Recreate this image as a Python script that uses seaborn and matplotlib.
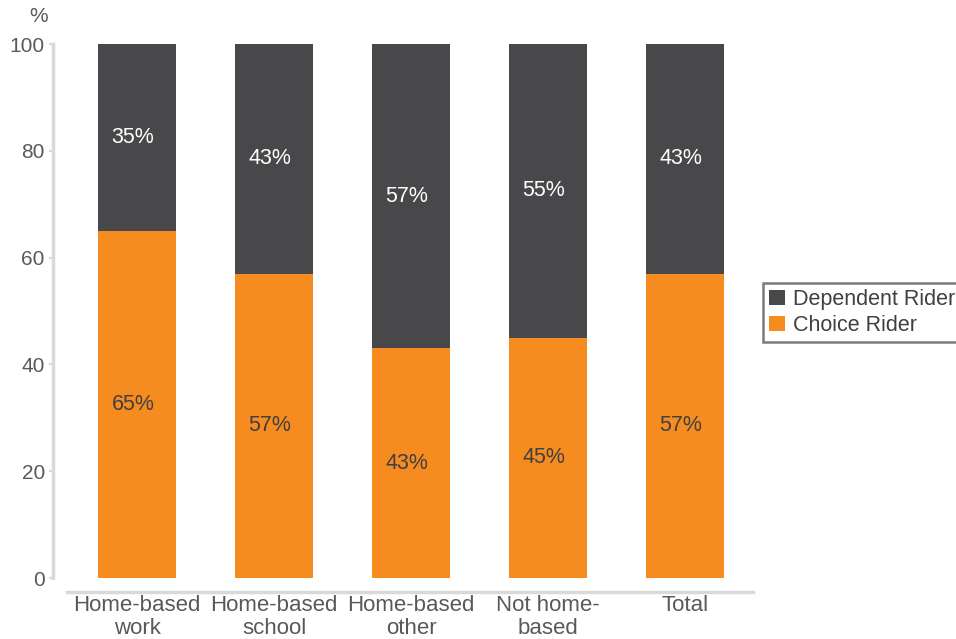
import matplotlib
matplotlib.use("Agg")
import matplotlib.pyplot as plt
from matplotlib.patches import Patch
import seaborn as sns
import pandas as pd

categories = ["Home-based\nwork", "Home-based\nschool", "Home-based\nother", "Not home-\nbased", "Total"]
choice = [65, 57, 43, 45, 57]
dependent = [35, 43, 57, 55, 43]
yticks = [0, 20, 40, 60, 80, 100]

ORANGE = "#F68C20"
DARK = "#48484A"
GRID = "#D9D9D9"
TEXT = "#595959"

sns.set_theme(style="white")
plt.rcParams["font.family"] = ["Liberation Sans", "DejaVu Sans"]

df = pd.DataFrame({
    "category": categories,
    "choice": choice,
    "dependent": dependent,
})
df["total"] = df["choice"] + df["dependent"]

fig = plt.figure(figsize=(9.56, 6.39), dpi=100)
ax = fig.add_axes([67 / 956, 1 - 578 / 639, (753 - 67) / 956, (578 - 44) / 639])

# stacked bars: full height in dark, choice share drawn over it in orange
sns.barplot(data=df, x="category", y="total", color=DARK, width=0.565,
            saturation=1, linewidth=0, ax=ax, zorder=2)
sns.barplot(data=df, x="category", y="choice", color=ORANGE, width=0.565,
            saturation=1, linewidth=0, ax=ax, zorder=3)

for i, (c, d) in enumerate(zip(df["choice"], df["dependent"])):
    ax.text(i - 0.03, c / 2, f"{c}%", ha="center", va="center", fontsize=15.5,
            color="#404040", zorder=4)
    ax.text(i - 0.03, c + d / 2, f"{d}%", ha="center", va="center", fontsize=15.5,
            color="white", zorder=4)

ax.set_xlim(-70 / 137, 4 + 68 / 137)
ax.set_ylim(0, 100)
ax.set_yticks(yticks)
ax.set_xlabel("")
ax.set_ylabel("")

for s in ["top", "right"]:
    ax.spines[s].set_visible(False)
ax.spines["left"].set_position(("outward", 10))
ax.spines["bottom"].set_position(("outward", 10))
for s in ["left", "bottom"]:
    ax.spines[s].set_color(GRID)
    ax.spines[s].set_linewidth(2.5)

ax.tick_params(axis="y", which="both", left=True, length=3, width=1.5,
               color=GRID, labelsize=15, labelcolor=TEXT, pad=3)
ax.tick_params(axis="x", which="both", bottom=False, labelsize=16,
               labelcolor=TEXT, pad=-4)
for lbl in ax.get_xticklabels():
    lbl.set_linespacing(1.17)

fig.text(39 / 956, 1 - 17 / 639, "%", ha="center", va="center",
         fontsize=15, color=TEXT)

handles = [Patch(facecolor=DARK, edgecolor="none", label="Dependent Rider"),
           Patch(facecolor=ORANGE, edgecolor="none", label="Choice Rider")]
leg = fig.legend(handles=handles, loc="upper left",
                 bbox_to_anchor=(763 / 956, 1 - 283 / 639),
                 frameon=True, fancybox=False, fontsize=15.5,
                 handlelength=0.7, handleheight=0.7, handletextpad=0.4,
                 labelspacing=0.2, borderpad=0.3, borderaxespad=0)
leg.get_frame().set_edgecolor("#5A5A5A")
leg.get_frame().set_linewidth(1.8)
for t in leg.get_texts():
    t.set_color("#404040")

fig.savefig("out.png", dpi=100)
